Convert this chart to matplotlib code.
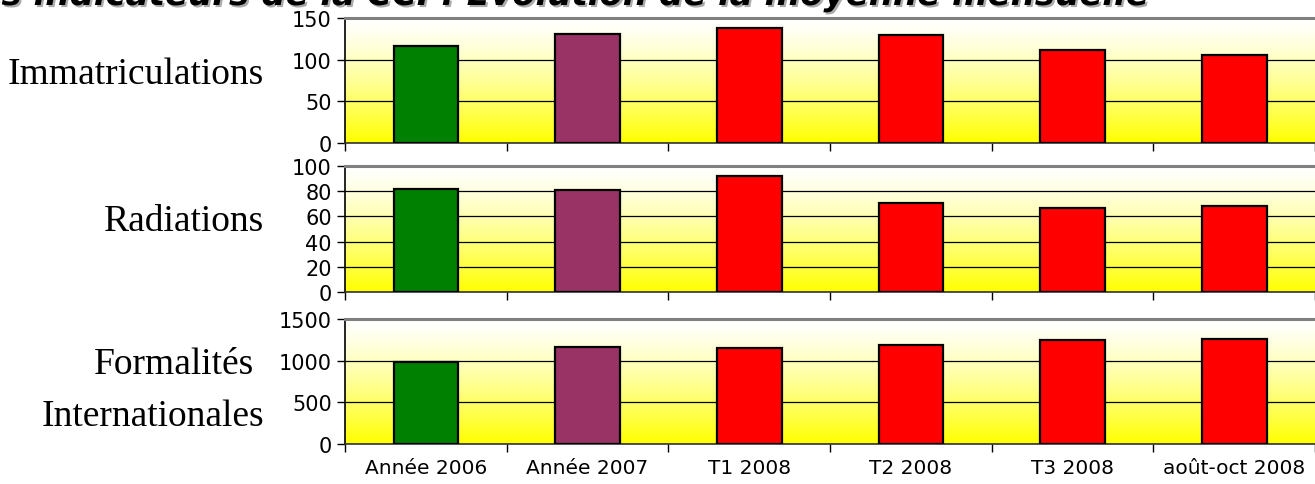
import matplotlib
matplotlib.use("Agg")
import matplotlib.pyplot as plt
import matplotlib.patheffects as pe
import numpy as np

# ---- data ----
categories = ["Année 2006", "Année 2007", "T1 2008", "T2 2008", "T3 2008", "août-oct 2008"]
bar_colors = ["#008000", "#993366", "#FF0000", "#FF0000", "#FF0000", "#FF0000"]

immatriculations = [116, 131, 138, 129, 111, 105]
radiations = [82, 81, 92.5, 71, 67, 68]
formalites = [986, 1167, 1151, 1187, 1244, 1259]

y_limits = [150, 100, 1500]
y_ticks = [[0, 50, 100, 150], [0, 20, 40, 60, 80, 100], [0, 500, 1000, 1500]]

title = "Les indicateurs de la CCI : Evolution de la moyenne mensuelle"

W, H = 1315, 485
fig = plt.figure(figsize=(W / 100, H / 100), dpi=100)

# panel positions in pixels (top, bottom)
panels = [(19, 143.5), (167.3, 292.7), (320, 444.7)]
left_px = 345

# gradient white -> yellow
t = np.linspace(0, 1, 256)
grad = np.ones((256, 1, 3))
grad[:, 0, 2] = 1 - t ** 1.3

series = [immatriculations, radiations, formalites]
x = np.arange(len(categories))

for i, (top, bot) in enumerate(panels):
    ax = fig.add_axes([left_px / W, 1 - bot / H, (W - left_px) / W, (bot - top) / H])
    ax.imshow(grad, extent=(0, 1, 0, 1), transform=ax.transAxes,
              aspect="auto", zorder=0, interpolation="bilinear")
    ax.bar(x, series[i], width=0.4, color=bar_colors,
           edgecolor="black", linewidth=1.6, zorder=3)
    ax.set_xlim(-0.5, 5.5)
    ax.set_ylim(0, y_limits[i])
    ax.set_yticks(y_ticks[i])
    ax.set_axisbelow(True)
    ax.grid(axis="y", color="black", linewidth=0.9)

    ax.spines["right"].set_visible(False)
    ax.spines["top"].set_color("#808080")
    ax.spines["top"].set_linewidth(2.2)
    ax.spines["top"].set_zorder(4)
    ax.spines["left"].set_color("black")
    ax.spines["left"].set_linewidth(1.2)
    ax.spines["bottom"].set_color("#333333")
    ax.spines["bottom"].set_linewidth(1.2)

    ax.tick_params(axis="y", direction="out", length=6, width=1,
                   pad=3.5, labelsize=15)
    ax.set_xticks(np.arange(-0.5, 6, 1), minor=True)
    ax.tick_params(axis="x", which="minor", direction="out", length=6, width=1)
    ax.set_xticks(x)
    if i == 2:
        ax.set_xticklabels(categories, fontsize=14.5)
        ax.tick_params(axis="x", which="major", length=0, pad=10)
    else:
        ax.set_xticklabels([])
        ax.tick_params(axis="x", which="major", length=0)

# row labels (serif, left side)
serif = dict(family="Liberation Serif", fontsize=27, ha="right", va="baseline")
fig.text(264 / W, 1 - 84 / H, "Immatriculations", **serif)
fig.text(264 / W, 1 - 231 / H, "Radiations", **serif)
fig.text(254 / W, 1 - 374 / H, "Formalités", **serif)
fig.text(264 / W, 1 - 426 / H, "Internationales", **serif)

# title, clipped at the top of the image
fig.text(1148 / W, 1 - 6 / H, title, ha="right", va="baseline",
         fontsize=24.5, fontweight="bold", style="italic", family="DejaVu Sans",
         path_effects=[pe.SimplePatchShadow(offset=(1.5, -1.5), shadow_rgbFace="#888888", alpha=0.7),
                       pe.Normal()])

fig.savefig("out.png", dpi=100)
